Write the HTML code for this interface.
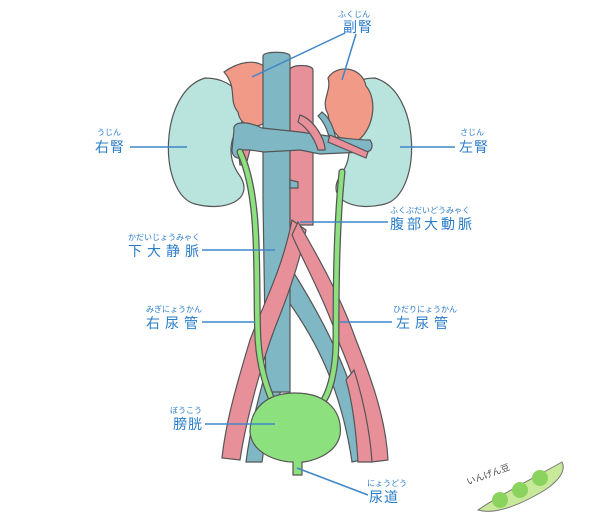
<!DOCTYPE html>
<html><head><meta charset="utf-8"><style>
body{margin:0;background:#fff;width:600px;height:525px;overflow:hidden}
svg{display:block}
text{font-family:"Liberation Sans","Noto Sans CJK JP",sans-serif;fill:#2a7cc7}
.f{font-size:8px}.l{font-size:14px;letter-spacing:1px}
.ln{stroke:#3f86c8;stroke-width:1.5;fill:none}
</style></head><body>
<svg width="600" height="525" viewBox="0 0 600 525">
<g stroke="#555" stroke-width="1.2">
<path d="M205,78 C240,78 250,108 240,126 C228,140 228,160 240,176 C255,200 225,212 195,204 C158,194 158,92 205,78Z" fill="#b9e3dd"/>
<path d="M375,78 C340,78 330,108 340,126 C352,140 352,160 340,176 C325,200 355,212 385,204 C422,194 422,92 375,78Z" fill="#b9e3dd"/>
<path d="M224,72 C238,62 256,58 266,68 L266,122 C255,130 240,126 238,112 C228,100 238,88 224,72Z" fill="#f19a88"/>
<path d="M328,78 C336,64 362,66 366,86 C378,100 374,130 356,142 C340,144 330,130 328,114 C320,100 332,92 328,78Z" fill="#f19a88"/>
<path d="M266,370 C258,400 250,430 246,462 L262,462 C266,430 276,400 288,375Z" fill="#7fb8c4"/>
<path d="M280,290 C310,330 340,380 352,462 L370,458 C358,390 330,330 292,270Z" fill="#7fb8c4"/>
<path d="M263,56 C263,51 290,51 290,56 L290,392 L266,392 L263,200Z" fill="#7fb8c4"/>
<path d="M290,70 C290,64 313,64 313,70 L313,225 L290,225Z" fill="#e8909a"/>
<path d="M292,220 C282,270 265,300 250,340 C238,380 226,420 222,458 L240,460 C246,420 262,360 278,320 C290,290 300,260 306,230Z" fill="#e8909a"/>
<path d="M298,222 C320,260 342,300 356,340 C372,380 386,420 388,460 L372,462 C368,420 355,380 340,345 C325,300 305,265 292,235Z" fill="#e8909a"/>
<path d="M354,370 C362,395 370,430 372,462 L358,462 C356,430 352,400 346,380Z" fill="#e8909a"/>
<path d="M234,130 C232,122 245,120 262,128 L300,132 C330,136 350,140 370,140 C374,146 372,152 365,152 L320,154 L300,150 L264,152 L250,150 C245,162 232,160 232,150 Z" fill="#7fb8c4"/>
<path d="M322,112 C330,118 334,128 336,140 L330,142 C328,130 324,122 318,116Z" fill="#7fb8c4"/>
<path d="M300,115 C315,120 325,140 325,150 L318,150 C315,140 308,128 298,122Z" fill="#e8909a"/>
<path d="M330,135 L368,152 L366,158 L328,142Z" fill="#e8909a"/>
<path d="M238,150 L250,150 L246,165 L240,165Z" fill="#e8909a"/>
<path d="M290,180 L298,182 L298,188 L290,188Z" fill="#7fb8c4"/>
</g>
<g fill="none" stroke="#555" stroke-width="7" stroke-linecap="round">
<path d="M240,152 C262,200 255,280 258,340 C260,370 268,390 272,400"/>
<path d="M342,172 C336,230 336,300 336,340 C336,370 330,390 324,400"/>
</g>
<g fill="none" stroke="#8de07e" stroke-width="4.5" stroke-linecap="round">
<path d="M240,152 C262,200 255,280 258,340 C260,370 268,390 272,400"/>
<path d="M342,172 C336,230 336,300 336,340 C336,370 330,390 324,400"/>
</g>
<path d="M295,393 C330,393 343,415 340,435 C336,455 310,462 302,462 L302,475 L293,475 L293,462 C280,462 252,455 250,432 C250,410 265,393 295,393Z" fill="#8de07e" stroke="#555" stroke-width="1.2"/>
<path class="ln" d="M345,33 L252,77 M356,34 L342,80 M130,147 L187,147 M400,147 L455,147 M300,222 L388,222 M202,250 L275,250 M202,322 L255,322 M340,322 L392,322 M205,424 L275,424 M297,468 L368,495"/>
<text class="f" x="338" y="17">ふくじん</text><text class="l" x="343" y="32">副腎</text>
<text class="f" x="97" y="135">うじん</text><text class="l" x="95" y="152">右腎</text>
<text class="f" x="460" y="135">さじん</text><text class="l" x="459" y="152">左腎</text>
<text class="f" x="390" y="213">ふくぶだいどうみゃく</text><text class="l" x="390" y="229" style="letter-spacing:3px">腹部大動脈</text>
<text class="f" x="128" y="240">かだいじょうみゃく</text><text class="l" x="128" y="256" style="letter-spacing:5px">下大静脈</text>
<text class="f" x="146" y="312">みぎにょうかん</text><text class="l" x="146" y="328" style="letter-spacing:5px">右尿管</text>
<text class="f" x="393" y="312">ひだりにょうかん</text><text class="l" x="396" y="328" style="letter-spacing:5px">左尿管</text>
<text class="f" x="170" y="413">ぼうこう</text><text class="l" x="173" y="429">膀胱</text>
<text class="f" x="367" y="486">にょうどう</text><text class="l" x="369" y="502">尿道</text>
<path d="M478,510 C500,495 530,480 562,462 C566,470 560,480 545,490 C520,505 495,515 478,510Z" fill="#c8e89a" stroke="#777" stroke-width="1"/>
<circle cx="500" cy="500" r="8" fill="#8bd35f"/><circle cx="520" cy="490" r="8" fill="#8bd35f"/><circle cx="540" cy="478" r="8" fill="#8bd35f"/>
<text x="468" y="485" style="font-size:9px;fill:#444" transform="rotate(-20 468 485)">いんげん豆</text>
</svg>
</body></html>
